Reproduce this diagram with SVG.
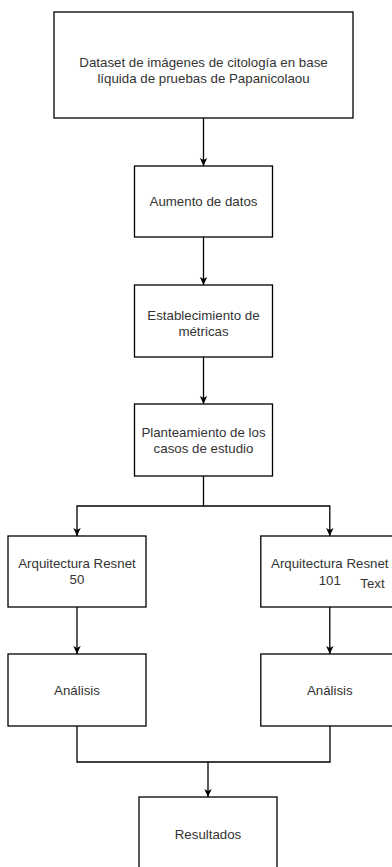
<svg xmlns="http://www.w3.org/2000/svg" width="392" height="867" viewBox="0 0 392 867">
  <style>
    .box { fill: #ffffff; stroke: #000000; stroke-width: 1.3; }
    .lbl { font-family: "Liberation Sans", Arial, sans-serif; font-size: 13.3px; fill: #333333; text-anchor: middle; dominant-baseline: central; }
    .edge { fill: none; stroke: #000000; stroke-width: 1.3; }
    .arrow { marker-end: url(#tip); }
  </style>
  <defs>
    <marker id="tip" markerUnits="userSpaceOnUse" markerWidth="9" markerHeight="9" viewBox="0 0 9 9" refX="8" refY="4.5" orient="auto">
      <path d="M0,0.8 L8,4.5 L0,8.2 L2,4.5 Z" fill="#000000"/>
    </marker>
  </defs>
  <rect width="392" height="867" fill="#ffffff"/>

  <g id="connectors">
    <path class="edge arrow" d="M203.5,118 V166"/>
    <path class="edge arrow" d="M203.5,237 V285"/>
    <path class="edge arrow" d="M203.5,357 V404"/>
    <path class="edge arrow" d="M203.5,476 V506 H77 V536"/>
    <path class="edge arrow" d="M203.5,506 H329.8 V536"/>
    <path class="edge arrow" d="M77,607 V654"/>
    <path class="edge arrow" d="M329.8,607 V654"/>
    <path class="edge" d="M77,726 V762 H330 V726"/>
    <path class="edge arrow" d="M208,762 V797"/>
  </g>

  <g id="dataset">
    <rect class="box" x="54" y="12" width="299" height="106"/>
    <text class="lbl" x="203.5" y="62">Dataset de imágenes de citología en base</text>
    <text class="lbl" x="203.5" y="78">líquida de pruebas de Papanicolaou</text>
  </g>

  <g id="aumento">
    <rect class="box" x="134.5" y="166" width="138" height="71"/>
    <text class="lbl" x="203.5" y="201.5">Aumento de datos</text>
  </g>

  <g id="metricas">
    <rect class="box" x="134.5" y="285" width="138" height="72"/>
    <text class="lbl" x="203.5" y="315">Establecimiento de</text>
    <text class="lbl" x="203.5" y="331">métricas</text>
  </g>

  <g id="casos">
    <rect class="box" x="134.5" y="404" width="138" height="72"/>
    <text class="lbl" x="203.5" y="432">Planteamiento de los</text>
    <text class="lbl" x="203.5" y="448">casos de estudio</text>
  </g>

  <g id="resnet50">
    <rect class="box" x="8" y="536" width="138" height="71"/>
    <text class="lbl" x="77" y="563">Arquitectura Resnet</text>
    <text class="lbl" x="77" y="579">50</text>
  </g>

  <g id="resnet101">
    <rect class="box" x="260.8" y="536" width="138" height="71"/>
    <text class="lbl" x="329.8" y="563">Arquitectura Resnet</text>
    <text class="lbl" x="329.8" y="580">101</text>
  </g>

  <g id="text-note">
    <text class="lbl" x="372.5" y="583">Text</text>
  </g>

  <g id="analisis50">
    <rect class="box" x="8" y="654" width="138" height="72"/>
    <text class="lbl" x="77" y="690">Análisis</text>
  </g>

  <g id="analisis101">
    <rect class="box" x="260.8" y="654" width="138" height="72"/>
    <text class="lbl" x="329.8" y="690">Análisis</text>
  </g>

  <g id="resultados">
    <rect class="box" x="139" y="797" width="138" height="72"/>
    <text class="lbl" x="208" y="834">Resultados</text>
  </g>
</svg>
